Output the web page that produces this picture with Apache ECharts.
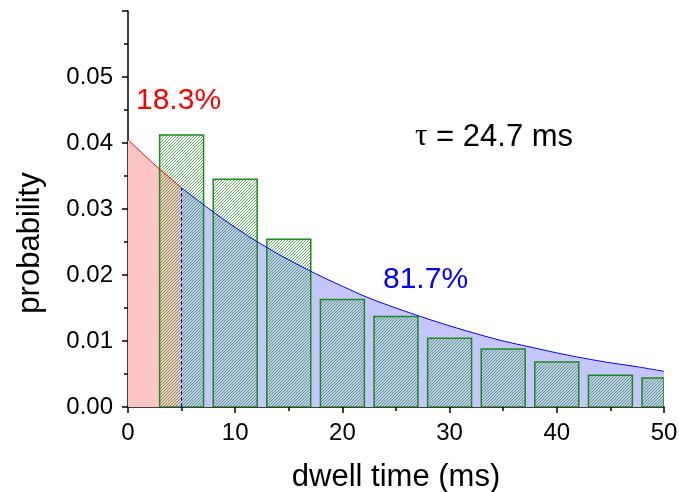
<!DOCTYPE html>
<html>
<head>
<meta charset="utf-8">
<script src="https://cdn.jsdelivr.net/npm/echarts@6/dist/echarts.min.js"></script>
<style>
    html, body { margin: 0; padding: 0; background: #fff; }
    #chart { width: 679px; height: 492px; }
</style>
</head>
<body>
<div id="chart"></div>
<script>
// histogram bins (ms) and probabilities
const binCenters = [5, 10, 15, 20, 25, 30, 35, 40, 45, 50]
const binProbs = [0.0412, 0.0345, 0.0254, 0.0163, 0.0137, 0.0104, 0.0088, 0.0068, 0.0048, 0.0044]

// fitted curve, every 2.5 ms
const curveTimes = [0, 2.5, 5, 7.5, 10, 12.5, 15, 17.5, 20, 22.5, 25, 27.5, 30, 32.5, 35, 37.5, 40, 42.5, 45, 47.5, 50]
const curveProbs = [0.0405, 0.0367, 0.0332, 0.0301, 0.0272, 0.0246, 0.0223, 0.0202, 0.0183, 0.0165, 0.0150,
    0.0136, 0.0123, 0.0111, 0.0100, 0.0091, 0.0082, 0.0074, 0.0067, 0.0061, 0.0054]

// where the red part ends
const splitTime = 5

const xTicks = { min: 0, max: 50, interval: 10 }
const yTicks = { min: 0, max: 0.06, interval: 0.01 }

const BIN_WIDTH = 4.1
const FONT = '"Liberation Sans", Arial, sans-serif'

window.addEventListener('load', renderChart)

function makeHatch() {
    const size = 3
    const cvs = document.createElement('canvas')
    cvs.width = size
    cvs.height = size
    const ctx = cvs.getContext('2d')
    ctx.strokeStyle = '#2a9a2a'
    ctx.lineWidth = 0.75
    ctx.beginPath()
    ctx.moveTo(0, size)
    ctx.lineTo(size, 0)
    ctx.moveTo(-1, 1)
    ctx.lineTo(1, -1)
    ctx.moveTo(size - 1, size + 1)
    ctx.lineTo(size + 1, size - 1)
    ctx.stroke()
    return cvs
}

function splitCurve() {
    const red = []
    const blue = []
    curveTimes.forEach((t, i) => {
        if (t <= splitTime) red.push([t, curveProbs[i]])
        if (t >= splitTime) blue.push([t, curveProbs[i]])
    })
    return { red, blue }
}

function renderChart() {
    const chart = echarts.init(document.getElementById('chart'))
    const hatch = makeHatch()
    const { red, blue } = splitCurve()
    const splitValue = curveProbs[curveTimes.indexOf(splitTime)]

    const renderBin = (params, api) => {
        const x = api.value(0)
        const h = api.value(1)
        const p0 = api.coord([x - BIN_WIDTH / 2, h])
        const p1 = api.coord([x + BIN_WIDTH / 2, 0])
        const rect = echarts.graphic.clipRectByRect({
            x: p0[0], y: p0[1], width: p1[0] - p0[0], height: p1[1] - p0[1]
        }, params.coordSys)
        if (!rect) return null
        return {
            type: 'rect',
            shape: rect,
            style: {
                fill: { image: hatch, repeat: 'repeat' },
                stroke: '#1f8a1f',
                lineWidth: 1.5
            }
        }
    }

    const axisCommon = {
        axisLine: { show: true, lineStyle: { color: '#000', width: 1.5 } },
        axisTick: { show: true, inside: false, length: 6, lineStyle: { color: '#000', width: 1.5 } },
        minorTick: { show: true, splitNumber: 2, length: 4, lineStyle: { color: '#000', width: 1.5 } },
        splitLine: { show: false },
        minorSplitLine: { show: false }
    }

    const curveLine = {
        type: 'line', smooth: 0.4, symbol: 'none'
    }

    const option = {
        animation: false,
        grid: { left: 128, right: 15, top: 11, bottom: 85, outerBoundsMode: 'none', containLabel: false },
        xAxis: Object.assign({
            type: 'value',
            min: xTicks.min,
            max: xTicks.max,
            interval: xTicks.interval,
            name: 'dwell time (ms)',
            nameLocation: 'middle',
            nameGap: 55,
            nameTextStyle: { fontSize: 31, fontFamily: FONT, color: '#000' },
            axisLabel: { fontSize: 24, fontFamily: FONT, color: '#000', margin: 14 }
        }, axisCommon),
        yAxis: Object.assign({
            type: 'value',
            min: yTicks.min,
            max: yTicks.max,
            interval: yTicks.interval,
            axisLabel: {
                fontSize: 24, fontFamily: FONT, color: '#000', margin: 15,
                formatter: v => (v >= yTicks.max - 1e-9 ? '' : v.toFixed(2))
            }
        }, axisCommon),
        graphic: [
            {
                type: 'text', x: 30, y: 243, rotation: Math.PI / 2,
                style: { text: 'probability', fontSize: 31, fontFamily: FONT, fill: '#000', align: 'center', verticalAlign: 'middle' }
            },
            {
                type: 'text', x: 136, y: 101,
                style: { text: '18.3%', fontSize: 30, fontFamily: FONT, fill: '#ff0000', align: 'left', verticalAlign: 'middle' }
            },
            {
                type: 'text', x: 383, y: 280,
                style: { text: '81.7%', fontSize: 30, fontFamily: FONT, fill: '#0000ff', align: 'left', verticalAlign: 'middle' }
            },
            {
                type: 'text', x: 415, y: 137,
                style: {
                    text: '{tau|τ} = 24.7 ms',
                    fontSize: 31, fontFamily: FONT, fill: '#000', align: 'left', verticalAlign: 'middle',
                    rich: { tau: { fontSize: 31, fontFamily: '"Liberation Serif", serif', fill: '#000' } }
                }
            }
        ],
        series: [
            Object.assign({}, curveLine, {
                name: 'red area', data: red, z: 1,
                lineStyle: { width: 0 },
                areaStyle: { color: '#ffc4c4', opacity: 1 }
            }),
            Object.assign({}, curveLine, {
                name: 'blue area', data: blue, z: 1,
                lineStyle: { width: 0 },
                areaStyle: { color: '#c6c6ff', opacity: 1 }
            }),
            {
                type: 'custom', name: 'histogram', z: 2, clip: true,
                renderItem: renderBin,
                data: binCenters.map((c, i) => [c, binProbs[i]])
            },
            Object.assign({}, curveLine, {
                name: 'red fit', data: red, z: 3,
                lineStyle: { color: '#ff0000', width: 1 }
            }),
            Object.assign({}, curveLine, {
                name: 'blue fit', data: blue, z: 3,
                lineStyle: { color: '#0000ff', width: 1 },
                markLine: {
                    silent: true, symbol: 'none', label: { show: false },
                    lineStyle: { color: '#0000ff', type: 'dashed', width: 1 },
                    data: [[{ coord: [splitTime, 0] }, { coord: [splitTime, splitValue] }]]
                }
            })
        ]
    }

    chart.setOption(option)
}
</script>
</body>
</html>
